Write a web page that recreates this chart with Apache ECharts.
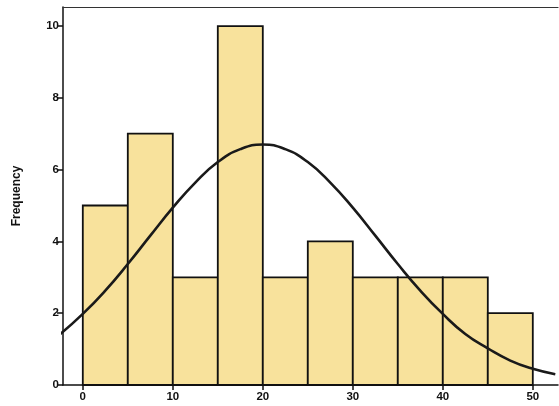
<!DOCTYPE html>
<html>
	<head>
		<meta charset="utf-8">
		<title>Frequency</title>
		<script src="https://cdn.jsdelivr.net/npm/echarts@6/dist/echarts.min.js"></script>
		<style>
			html, body { margin: 0; padding: 0; background: #fff; }
			#main { width: 559px; height: 406px; }
		</style>
	</head>
	<body>
		<div id="main"></div>
		<script>
			// histogram bins (lower edge, upper edge) and counts
			var binStart = [0, 5, 10, 15, 20, 25, 30, 35, 40, 45];
			var binEnd = [5, 10, 15, 20, 25, 30, 35, 40, 45, 50];
			var counts = [5, 7, 3, 10, 3, 4, 3, 3, 3, 2];

			// fitted curve
			var curveX = [-2.5, 0, 2.5, 5, 7.5, 10, 12.5, 15, 17.5, 20, 22.5, 25, 27.5, 30, 32.5, 35, 37.5, 40, 42.5, 45, 47.5, 50, 52.5];
			var curveY = [1.42, 1.98, 2.63, 3.37, 4.16, 4.94, 5.64, 6.21, 6.57, 6.7, 6.57, 6.21, 5.64, 4.94, 4.16, 3.37, 2.63, 1.98, 1.42, 1.02, 0.68, 0.45, 0.3];

			var xTicks = [0, 10, 20, 30, 40, 50];
			var yTicks = [0, 2, 4, 6, 8, 10];

			var bars = binStart.map(function(s, i) { return [s, binEnd[i], counts[i]]; });
			var curve = curveX.map(function(x, i) { return [x, curveY[i]]; });

			var labelFont = { color: '#111', fontWeight: 'bold', fontSize: 11.5, fontFamily: 'Liberation Sans, Arial, sans-serif' };

			var myChart = echarts.init(document.getElementById('main'));
			myChart.setOption({
				animation: false,
				grid: { left: 63, top: 7, right: 1, bottom: 21 },
				xAxis: [{
					type: 'value', min: -2.2, max: 52.8,
					axisLine: { onZero: false, lineStyle: { color: '#111', width: 1.5 } },
					axisTick: { customValues: xTicks, length: 5, lineStyle: { color: '#111', width: 1.5 } },
					axisLabel: Object.assign({ customValues: xTicks, margin: 6 }, labelFont),
					splitLine: { show: false }
				}, {
					// just the top border line
					type: 'value', position: 'top', min: -2.2, max: 52.8,
					axisLine: { show: true, onZero: false, lineStyle: { color: '#333', width: 1.2 } },
					axisTick: { show: false }, axisLabel: { show: false }, splitLine: { show: false }
				}],
				yAxis: {
					type: 'value', min: 0, max: 10.53,
					name: 'Frequency', nameLocation: 'middle', nameGap: 40, nameRotate: 90,
					nameTextStyle: { color: '#111', fontWeight: 'bold', fontSize: 12, fontFamily: 'Liberation Sans, Arial, sans-serif' },
					axisLine: { show: true, onZero: false, lineStyle: { color: '#111', width: 1.5 } },
					axisTick: { customValues: yTicks, length: 6, lineStyle: { color: '#111', width: 1.5 } },
					axisLabel: Object.assign({ customValues: yTicks, margin: 4 }, labelFont),
					splitLine: { show: false }
				},
				series: [{
					type: 'custom',
					data: bars,
					encode: { x: [0, 1], y: 2 },
					renderItem: function(params, api) {
						var p0 = api.coord([api.value(0), api.value(2)]);
						var p1 = api.coord([api.value(1), 0]);
						return {
							type: 'rect',
							shape: { x: p0[0], y: p0[1], width: p1[0] - p0[0], height: p1[1] - p0[1] },
							style: { fill: '#f8e29c', stroke: '#111', lineWidth: 1.8 }
						};
					},
					z: 2
				}, {
					type: 'line',
					data: curve,
					smooth: 0.5,
					showSymbol: false,
					lineStyle: { color: '#1a1a1a', width: 2.6 },
					z: 3
				}]
			});
		</script>
	</body>
</html>
